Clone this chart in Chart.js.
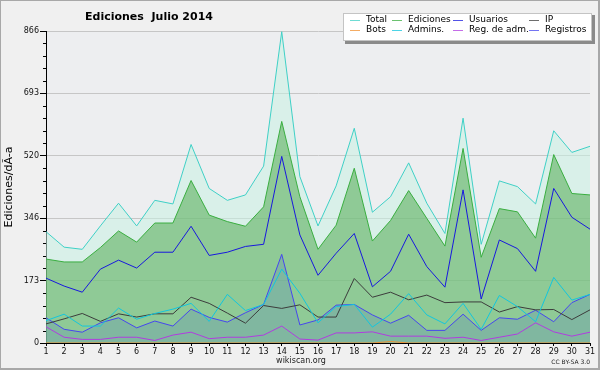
<!DOCTYPE html>
<html>
<head>
<meta charset="utf-8">
<script src="https://cdn.jsdelivr.net/npm/chart.js@4.4.1/dist/chart.umd.min.js"></script>
<style>
  html, body { margin: 0; padding: 0; background: #f0f0f0; }
  #grafico { display: block; }
</style>
</head>
<body>
<canvas id="grafico" width="600" height="370"></canvas>
<script>
// datos (julio 2014)
const dias = ['1','2','3','4','5','6','7','8','9','10','11','12','13','14','15','16',
              '17','18','19','20','21','22','23','24','25','26','27','28','29','30','31'];

const total     = [309,266,260,325,388,325,396,386,551,429,396,411,491,864,462,325,436,596,363,406,500,388,304,624,274,450,434,386,589,529,546];
const ediciones = [233,225,225,265,311,280,333,333,451,355,337,324,378,615,406,260,327,485,283,340,423,346,269,540,238,373,364,291,523,415,411];
const usuarios  = [180,158,141,205,230,208,252,252,324,243,252,268,274,518,300,188,249,304,156,199,302,212,155,425,122,286,262,199,429,349,316];
const ip        = [53,67,82,60,81,72,81,81,127,110,83,55,104,96,106,72,72,179,127,141,120,133,112,114,114,86,101,92,93,65,92];
const bots      = [0,0,0,0,0,0,0,0,0,0,0,0,0,0,0,0,0,0,0,4,0,0,0,0,0,0,0,0,0,0,0];
const admins    = [62,80,47,47,97,66,82,94,110,60,135,90,107,205,138,56,101,107,44,80,137,78,53,110,38,132,101,59,182,119,135];
const regAdm    = [45,16,10,10,16,16,7,22,30,12,16,16,22,47,11,8,28,28,31,19,19,19,13,16,7,16,25,56,31,19,30];
const registros = [70,38,30,56,70,42,61,47,94,71,58,84,107,246,50,64,105,107,78,55,77,35,35,80,35,70,66,91,59,112,135];

const yTicks = [0, 173.2, 346.4, 519.6, 692.8, 866];
const yTickLabels = ['0', '173', '346', '520', '693', '866'];
const yMax = 866;

const titulo = 'Ediciones  Julio 2014';
const tituloEje = 'Ediciones/dÃ-a';
const pie = 'wikiscan.org';
const licencia = 'CC BY-SA 3.0';

const FUENTE = '"DejaVu Sans", sans-serif';

function serie(label, data, color, order, fondo) {
    return {
        label: label,
        data: data,
        borderColor: color,
        backgroundColor: fondo || color,
        borderWidth: 1,
        pointRadius: 0,
        tension: 0,
        fill: fondo ? 'origin' : false,
        order: order
    };
}

const datasets = [
    serie('Total', total, '#3fd0c6', 10, 'rgba(200,242,228,0.55)'),
    serie('Ediciones', ediciones, '#3aae40', 9, 'rgba(80,170,80,0.54)'),
    serie('Usuarios', usuarios, '#1818de', 4),
    serie('IP', ip, '#3c3c3c', 5),
    serie('Bots', bots, '#f09030', 6),
    serie('Admins.', admins, '#12c6de', 3),
    serie('Reg. de adm.', regAdm, '#b03ce0', 2),
    serie('Registros', registros, '#4646ee', 8, 'rgba(100,150,180,0.35)')
];

// leyenda en 2 filas x 4 columnas, como en el original
const colX = [350, 392, 453, 529];
const filaY = [19.5, 29.5];

const decorado = {
    id: 'decorado',
    beforeDraw(chart) {
        const {ctx, chartArea: a} = chart;
        ctx.save();
        ctx.fillStyle = '#f0f0f0';
        ctx.fillRect(0, 0, chart.width, chart.height);
        ctx.fillStyle = '#edeef0';
        ctx.fillRect(a.left, a.top, a.right - a.left, a.bottom - a.top);
        ctx.restore();
    },
    afterDraw(chart) {
        const {ctx, chartArea: a} = chart;
        const y = chart.scales.y;
        ctx.save();

        // marcas menores del eje y
        ctx.strokeStyle = '#000';
        ctx.lineWidth = 1;
        ctx.beginPath();
        for (let i = 1; i < 25; i++) {
            if (i % 5 === 0) continue;
            const py = Math.round(y.getPixelForValue(i * yMax / 25)) + 0.5;
            ctx.moveTo(a.left - 3, py);
            ctx.lineTo(a.left, py);
        }
        ctx.stroke();

        // titulo
        ctx.fillStyle = '#000';
        ctx.font = 'bold 11px ' + FUENTE;
        ctx.textAlign = 'center';
        ctx.textBaseline = 'middle';
        ctx.fillText(titulo, 149, 17);

        // leyenda
        ctx.fillStyle = '#8a8a8a';
        ctx.fillRect(345, 15, 250, 29);
        ctx.fillStyle = '#fff';
        ctx.fillRect(343, 13, 249, 28);
        ctx.strokeStyle = '#c4c4c4';
        ctx.strokeRect(343.5, 13.5, 248, 27);

        ctx.font = '9px ' + FUENTE;
        ctx.textAlign = 'left';
        chart.data.datasets.forEach((ds, i) => {
            const cx = colX[i % 4];
            const cy = filaY[Math.floor(i / 4)];
            ctx.strokeStyle = ds.borderColor;
            ctx.globalAlpha = 0.75;
            ctx.beginPath();
            ctx.moveTo(cx, Math.round(cy) + 0.5);
            ctx.lineTo(cx + 10, Math.round(cy) + 0.5);
            ctx.stroke();
            ctx.globalAlpha = 1;
            ctx.fillStyle = '#000';
            ctx.fillText(ds.label, cx + 16, cy);
        });

        // pie
        ctx.font = '8px ' + FUENTE;
        ctx.textAlign = 'center';
        ctx.fillStyle = '#222';
        ctx.fillText(pie, 301, 361);
        ctx.font = '6px ' + FUENTE;
        ctx.textAlign = 'right';
        ctx.fillText(licencia, 590, 362);

        // marco
        ctx.strokeStyle = '#a8a8a8';
        ctx.lineWidth = 1;
        ctx.strokeRect(0.5, 0.5, 598, 368);
        ctx.beginPath();
        ctx.moveTo(599.5, 0);
        ctx.lineTo(599.5, 370);
        ctx.moveTo(0, 369.5);
        ctx.lineTo(600, 369.5);
        ctx.stroke();
        ctx.restore();
    }
};

const ctx = document.getElementById('grafico').getContext('2d');

const grafico = new Chart(ctx, {
    type: 'line',
    data: {
        labels: dias,
        datasets: datasets
    },
    options: {
        responsive: false,
        animation: false,
        devicePixelRatio: 1,
        layout: {
            padding: {top: 31, right: 10, bottom: 0, left: 0}
        },
        plugins: {
            legend: {display: false},
            tooltip: {enabled: false},
            filler: {drawTime: 'beforeDatasetsDraw'}
        },
        scales: {
            x: {
                offset: false,
                afterFit: (s) => { s.height = 27; },
                grid: {
                    drawOnChartArea: false,
                    tickLength: 3,
                    tickColor: '#000'
                },
                border: {color: '#000'},
                ticks: {
                    autoSkip: false,
                    maxRotation: 0,
                    padding: 1,
                    color: '#111',
                    font: {family: FUENTE, size: 8}
                }
            },
            y: {
                min: 0,
                max: yMax,
                afterFit: (s) => { s.width = 46; },
                afterBuildTicks: (s) => { s.ticks = yTicks.map(v => ({value: v})); },
                grid: {
                    color: '#c6c6c6',
                    tickLength: 6,
                    tickColor: '#000'
                },
                border: {color: '#000'},
                ticks: {
                    padding: 1,
                    color: '#111',
                    font: {family: FUENTE, size: 8},
                    callback: (v, i) => yTickLabels[i]
                },
                title: {
                    display: true,
                    text: tituloEje,
                    color: '#000',
                    padding: {top: 3, bottom: 0},
                    font: {family: FUENTE, size: 11}
                }
            }
        }
    },
    plugins: [decorado]
});
</script>
</body>
</html>
